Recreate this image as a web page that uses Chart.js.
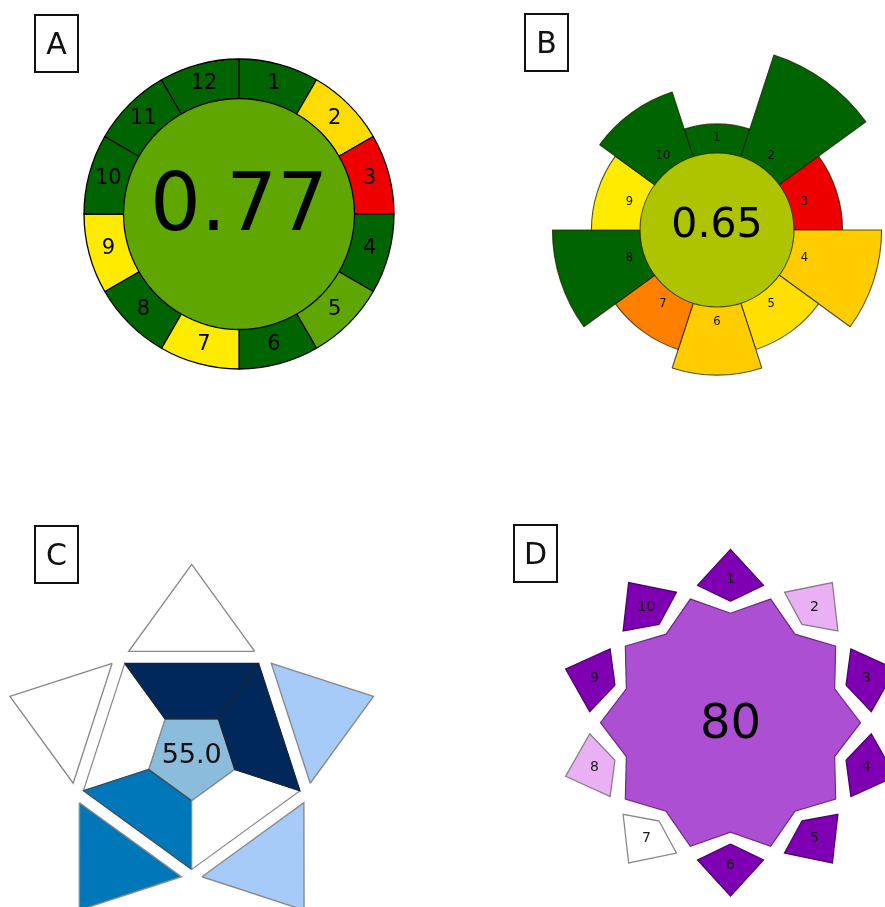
<!DOCTYPE html>
<html>
<head>
<meta charset="utf-8">
<script src="https://cdn.jsdelivr.net/npm/chart.js@4.4.1/dist/chart.umd.min.js"></script>
<style>
  html, body { margin: 0; padding: 0; background: #fff; }
  body { width: 885px; height: 907px; position: relative; overflow: hidden; font-family: 'DejaVu Sans', sans-serif; }
  canvas { position: absolute; }
  .tag { position: absolute; box-sizing: border-box; width: 45px; height: 59px; border: 2px solid #111;
         font-size: 30px; line-height: 55px; text-align: center; color: #111; z-index: 2; }
</style>
</head>
<body>
<div class="tag" style="left:34px;top:14px">A</div>
<div class="tag" style="left:524px;top:13px">B</div>
<div class="tag" style="left:34px;top:525px">C</div>
<div class="tag" style="left:513px;top:524px">D</div>

<canvas id="chartA" width="330" height="330" style="left:74px;top:49px"></canvas>
<canvas id="chartB" width="400" height="400" style="left:517px;top:30px"></canvas>
<canvas id="chartC" width="440" height="407" style="left:0px;top:500px"></canvas>
<canvas id="chartD" width="440" height="407" style="left:445px;top:500px"></canvas>

<script>
// ---- Data ----
// A: 12 principles, score per segment, overall score
const agreeLabels = ['1', '2', '3', '4', '5', '6', '7', '8', '9', '10', '11', '12'];
const agreeScores = [1, 0.45, 0, 1, 0.77, 1, 0.5, 1, 0.5, 1, 1, 1];
const agreeTotal = 0.77;

// B: 10 criteria, weight (segment length) and score per segment
const prepLabels = ['1', '2', '3', '4', '5', '6', '7', '8', '9', '10'];
const prepWeights = [1, 5, 2, 4, 2, 3, 2, 4, 2, 3];
const prepScores = [1, 1, 0, 0.4, 0.46, 0.4, 0.25, 1, 0.5, 1];
const prepTotal = 0.65;

// C: five sides, top then clockwise (0 = none, 3 = darkest)
const starInnerLevels = [3, 3, 0, 2, 0];
const starTipLevels = [0, 1, 1, 2, 0];
const starTotal = 55.0;

// D: 10 criteria, top then clockwise (0 = white, 2 = dark)
const octLabels = ['1', '2', '3', '4', '5', '6', '7', '8', '9', '10'];
const octLevels = [2, 1, 2, 2, 2, 2, 0, 1, 2, 2];
const octTotal = 80;

// ---- Styles ----
Chart.defaults.font.family = "'DejaVu Sans', sans-serif";
const FONT = "'DejaVu Sans', sans-serif";

// red -> yellow -> dark green score scale
const scoreStops = [
    [0.0, [238, 0, 0]],
    [0.25, [255, 128, 0]],
    [0.4, [255, 204, 0]],
    [0.5, [255, 235, 0]],
    [0.65, [174, 196, 0]],
    [0.77, [95, 166, 0]],
    [1.0, [0, 100, 0]]
];
function scoreColor(s) {
    for (let i = 1; i < scoreStops.length; i++) {
        const [s1, c1] = scoreStops[i];
        if (s <= s1) {
            const [s0, c0] = scoreStops[i - 1];
            const t = (s - s0) / (s1 - s0);
            const c = c0.map((v, j) => Math.round(v + (c1[j] - v) * t));
            return `rgb(${c[0]},${c[1]},${c[2]})`;
        }
    }
    return 'rgb(0,100,0)';
}

const blueShades = ['#ffffff', '#a7cbf8', '#0077b8', '#00285a'];
const blueEdges = ['#8a8a8a', '#7a8594', '#3a4a5a', '#1a2230'];
const blueCore = '#8bbcdc';
const purpleShades = ['#ffffff', '#e9b1f3', '#7f00b3'];
const purpleEdges = ['#8a8a8a', '#8a7a8e', '#4e006e'];
const purpleCore = '#ad4fd3';

const baseOptions = {
    responsive: false,
    animation: false,
    devicePixelRatio: 1,
    events: [],
    plugins: { legend: { display: false }, tooltip: { enabled: false } }
};

function polar(r, deg) {
    const a = deg * Math.PI / 180;
    return { x: r * Math.cos(a), y: r * Math.sin(a) };
}

function polygon(points, fillColor, edgeColor, width) {
    return {
        data: points.concat([points[0]]),
        backgroundColor: fillColor,
        borderColor: edgeColor,
        borderWidth: width,
        borderJoinStyle: 'miter',
        fill: 'shape',
        pointRadius: 0,
        tension: 0
    };
}

// ---- A: ring pie ----
const agreeText = {
    id: 'agreeText',
    afterDatasetsDraw(chart) {
        const ctx = chart.ctx;
        ctx.save();
        ctx.fillStyle = '#000';
        ctx.textAlign = 'center';
        ctx.textBaseline = 'middle';
        ctx.font = `21px ${FONT}`;
        chart.getDatasetMeta(0).data.forEach((arc, i) => {
            const p = arc.tooltipPosition();
            ctx.fillText(agreeLabels[i], p.x, p.y);
        });
        const core = chart.getDatasetMeta(1).data[0];
        ctx.font = `80px ${FONT}`;
        ctx.fillText(agreeTotal.toFixed(2), core.x, core.y - 5);
        ctx.restore();
    }
};

new Chart(document.getElementById('chartA'), {
    type: 'pie',
    data: {
        labels: agreeLabels,
        datasets: [
            {
                data: agreeLabels.map(() => 1),
                backgroundColor: agreeScores.map(scoreColor),
                borderColor: '#000',
                borderWidth: 1.3,
                hoverOffset: 0,
                weight: 39.5
            },
            {
                // the ring's inner edges already outline this disc
                data: [1],
                backgroundColor: [scoreColor(agreeTotal)],
                borderWidth: 0,
                hoverOffset: 0,
                weight: 115.5
            }
        ]
    },
    options: Object.assign({}, baseOptions, { radius: 155 }),
    plugins: [agreeText]
});

// ---- B: polar area ----
const prepText = {
    id: 'prepText',
    afterDatasetsDraw(chart) {
        const ctx = chart.ctx;
        const scale = chart.scales.r;
        const cx = scale.xCenter, cy = scale.yCenter;
        const coreR = scale.drawingArea * 0.385;
        ctx.save();
        ctx.beginPath();
        ctx.arc(cx, cy, coreR, 0, Math.PI * 2);
        ctx.fillStyle = scoreColor(prepTotal);
        ctx.fill();
        ctx.lineWidth = 1.2;
        ctx.strokeStyle = 'rgba(40,40,0,0.8)';
        ctx.stroke();

        ctx.fillStyle = '#111';
        ctx.textAlign = 'center';
        ctx.textBaseline = 'middle';
        ctx.font = `11.5px ${FONT}`;
        const labelR = scale.drawingArea * 0.46;
        chart.getDatasetMeta(0).data.forEach((arc, i) => {
            const a = (arc.startAngle + arc.endAngle) / 2;
            ctx.fillText(prepLabels[i], cx + labelR * Math.cos(a), cy + labelR * Math.sin(a));
        });
        ctx.font = `41px ${FONT}`;
        ctx.fillStyle = '#000';
        ctx.fillText(prepTotal.toFixed(2), cx, cy - 4);
        ctx.restore();
    }
};

new Chart(document.getElementById('chartB'), {
    type: 'polarArea',
    data: {
        labels: prepLabels,
        datasets: [{
            data: prepWeights,
            backgroundColor: prepScores.map(scoreColor),
            borderColor: 'rgba(30,30,0,0.75)',
            borderWidth: 1.1
        }]
    },
    options: Object.assign({}, baseOptions, {
        scales: {
            r: { display: false, min: -4.44, max: 5.816, startAngle: -18 }
        }
    }),
    plugins: [prepText]
});

// ---- C: pentagon star ----
const C_INNER_R = 45.3, C_OUTER_R = 113.9, C_GAP = 12, C_TRI_HALF = 63, C_TRI_H = 87;
const cDatasets = [];
for (let k = 0; k < 5; k++) {
    const phi = 90 - 72 * k;
    const lv = starInnerLevels[k];
    cDatasets.push(polygon([
        polar(C_OUTER_R, phi + 36), polar(C_OUTER_R, phi - 36),
        polar(C_INNER_R, phi - 36), polar(C_INNER_R, phi + 36)
    ], blueShades[lv], blueEdges[lv], 1.2));
}
for (let k = 0; k < 5; k++) {
    const phi = 90 - 72 * k;
    const lv = starTipLevels[k];
    const base = C_OUTER_R * Math.cos(Math.PI / 5) + C_GAP;
    const bc = polar(base, phi);
    const t = polar(C_TRI_HALF, phi - 90);
    cDatasets.push(polygon([
        { x: bc.x + t.x, y: bc.y + t.y },
        polar(base + C_TRI_H, phi),
        { x: bc.x - t.x, y: bc.y - t.y }
    ], blueShades[lv], '#8a8a8a', 1.4));
}
const corePts = [];
for (let k = 0; k < 5; k++) corePts.push(polar(C_INNER_R, 90 - 72 * k + 36));
cDatasets.push(polygon(corePts, blueCore, '#5a6a78', 1.2));

const starText = {
    id: 'starText',
    afterDatasetsDraw(chart) {
        const ctx = chart.ctx;
        ctx.save();
        ctx.fillStyle = '#111';
        ctx.textAlign = 'center';
        ctx.textBaseline = 'middle';
        ctx.font = `27px ${FONT}`;
        ctx.fillText(starTotal.toFixed(1), chart.scales.x.getPixelForValue(0), chart.scales.y.getPixelForValue(0));
        ctx.restore();
    }
};

new Chart(document.getElementById('chartC'), {
    type: 'line',
    data: { datasets: cDatasets },
    options: Object.assign({}, baseOptions, {
        scales: {
            x: { type: 'linear', display: false, bounds: 'data', min: -191.7, max: 248.3 },
            y: { type: 'linear', display: false, bounds: 'data', min: -151.5, max: 255.5 }
        }
    }),
    plugins: [starText]
});

// ---- D: ten-point star ----
const D_STAR_IN = 109.5, D_STAR_OUT = 130;
const D_KITE_IN = 121.5, D_KITE_SIDE = 141.2, D_KITE_TIP = 173.3, D_KITE_SPREAD = 13.5, D_LABEL_R = 143;
const dDatasets = [];
const starPts = [];
for (let j = 0; j < 10; j++) {
    const th = 90 - 36 * j;
    starPts.push(polar(D_STAR_IN, th));
    starPts.push(polar(D_STAR_OUT, th - 18));
}
dDatasets.push(polygon(starPts, purpleCore, '#6d2a8c', 1.2));
octLevels.forEach((lv, k) => {
    const th = 90 - 36 * k;
    dDatasets.push(polygon([
        polar(D_KITE_IN, th), polar(D_KITE_SIDE, th - D_KITE_SPREAD),
        polar(D_KITE_TIP, th), polar(D_KITE_SIDE, th + D_KITE_SPREAD)
    ], purpleShades[lv], purpleEdges[lv], 1.3));
});

const octText = {
    id: 'octText',
    afterDatasetsDraw(chart) {
        const ctx = chart.ctx;
        const xs = chart.scales.x, ys = chart.scales.y;
        ctx.save();
        ctx.fillStyle = '#1a1a1a';
        ctx.textAlign = 'center';
        ctx.textBaseline = 'middle';
        ctx.font = `14px ${FONT}`;
        octLabels.forEach((lab, k) => {
            const p = polar(D_LABEL_R, 90 - 36 * k);
            ctx.fillText(lab, xs.getPixelForValue(p.x), ys.getPixelForValue(p.y));
        });
        ctx.fillStyle = '#000';
        ctx.font = `48px ${FONT}`;
        ctx.fillText(String(octTotal), xs.getPixelForValue(0), ys.getPixelForValue(0) + 3);
        ctx.restore();
    }
};

new Chart(document.getElementById('chartD'), {
    type: 'line',
    data: { datasets: dDatasets },
    options: Object.assign({}, baseOptions, {
        scales: {
            x: { type: 'linear', display: false, bounds: 'data', min: -285.5, max: 154.5 },
            y: { type: 'linear', display: false, bounds: 'data', min: -184.3, max: 222.7 }
        }
    }),
    plugins: [octText]
});
</script>
</body>
</html>
